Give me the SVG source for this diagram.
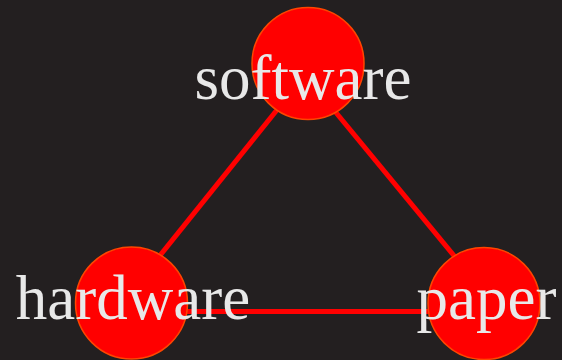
<svg xmlns="http://www.w3.org/2000/svg" width="562" height="360" viewBox="0 0 562 360">
<style>
.edge{stroke:#ff0000;stroke-width:5;fill:none}
.node circle{fill:#ff0000;stroke:#ff4500;stroke-width:1.5}
.node text{font-family:"Liberation Serif","Times New Roman",serif;font-size:63px;fill:#e8e8e8;text-anchor:middle}
</style>
<rect width="562" height="360" fill="#231f20"/>
<g id="connectors">
<line class="edge" x1="305" y1="75" x2="115" y2="311.5"/>
<line class="edge" x1="305" y1="75" x2="500" y2="311.5"/>
<line class="edge" x1="115" y1="311.5" x2="500" y2="311.5"/>
</g>
<g id="node-software" class="node">
<circle cx="308" cy="63.5" r="56"/>
<text x="303" y="98.5">software</text>
</g>
<g id="node-hardware" class="node">
<circle cx="131.5" cy="303" r="56"/>
<text x="133" y="318.5">hardware</text>
</g>
<g id="node-paper" class="node">
<circle cx="484" cy="303.5" r="56"/>
<text x="486.5" y="319">paper</text>
</g>
</svg>
